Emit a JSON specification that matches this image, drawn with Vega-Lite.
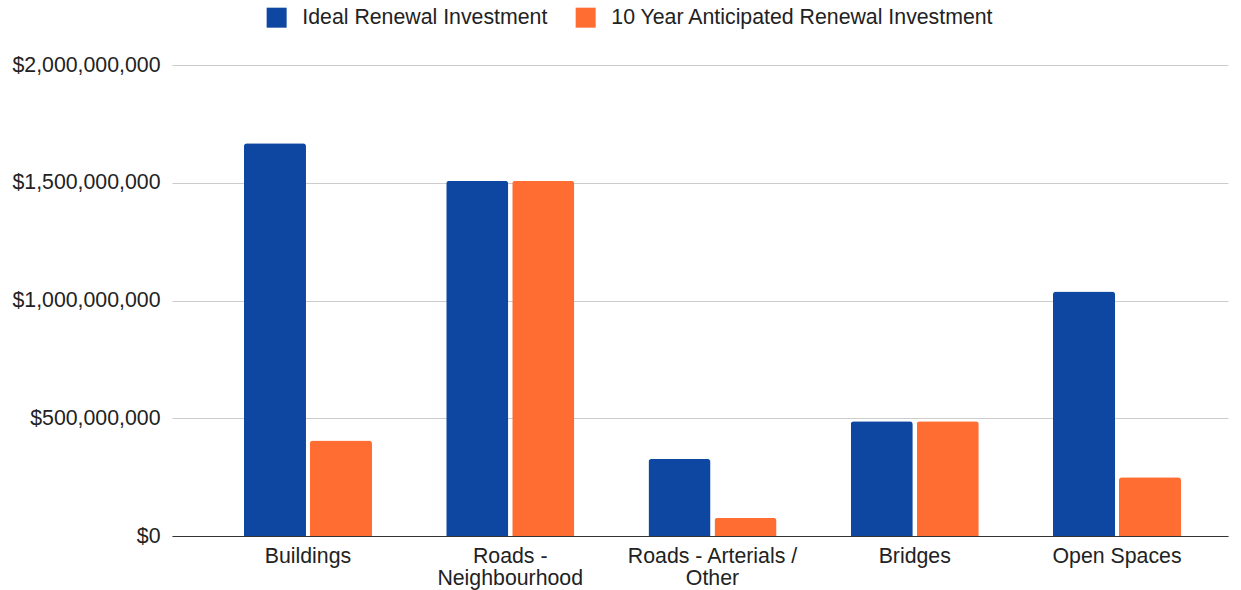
{
  "$schema": "https://vega.github.io/schema/vega-lite/v6.json",
  "width": 1056,
  "height": 471,
  "autosize": {"type": "none"},
  "padding": {"left": 172, "top": 65, "right": 13, "bottom": 54},
  "background": "white",
  "config": {
    "view": {"stroke": null},
    "font": "Liberation Sans"
  },
  "data": {
    "values": [
      {"category": "Buildings", "series": "Ideal Renewal Investment", "value": 1668000000},
      {"category": "Buildings", "series": "10 Year Anticipated Renewal Investment", "value": 405000000},
      {"category": "Roads - Neighbourhood", "series": "Ideal Renewal Investment", "value": 1508000000},
      {"category": "Roads - Neighbourhood", "series": "10 Year Anticipated Renewal Investment", "value": 1508000000},
      {"category": "Roads - Arterials / Other", "series": "Ideal Renewal Investment", "value": 327000000},
      {"category": "Roads - Arterials / Other", "series": "10 Year Anticipated Renewal Investment", "value": 77000000},
      {"category": "Bridges", "series": "Ideal Renewal Investment", "value": 487000000},
      {"category": "Bridges", "series": "10 Year Anticipated Renewal Investment", "value": 487000000},
      {"category": "Open Spaces", "series": "Ideal Renewal Investment", "value": 1038000000},
      {"category": "Open Spaces", "series": "10 Year Anticipated Renewal Investment", "value": 249000000}
    ]
  },
  "mark": {"type": "bar", "cornerRadiusTopLeft": 3, "cornerRadiusTopRight": 3},
  "encoding": {
    "x": {
      "field": "category",
      "type": "nominal",
      "sort": null,
      "scale": {"paddingInner": 0.367, "paddingOuter": 0.294, "align": 0.605},
      "axis": {
        "title": null,
        "labelAngle": 0,
        "labelFontSize": 21.3,
        "labelColor": "#222222",
        "labelPadding": 9,
        "labelLimit": 400,
        "labelLineHeight": 22,
        "ticks": false,
        "domainColor": "#333333",
        "domainWidth": 1,
        "labelExpr": "datum.label == 'Roads - Neighbourhood' ? ['Roads -', 'Neighbourhood'] : datum.label == 'Roads - Arterials / Other' ? ['Roads - Arterials /', 'Other'] : datum.label"
      }
    },
    "xOffset": {
      "field": "series",
      "type": "nominal",
      "sort": ["Ideal Renewal Investment", "10 Year Anticipated Renewal Investment"],
      "scale": {"paddingInner": 0.06, "paddingOuter": 0}
    },
    "y": {
      "field": "value",
      "type": "quantitative",
      "scale": {"domain": [0, 2000000000], "nice": false},
      "axis": {
        "title": null,
        "values": [0, 500000000, 1000000000, 1500000000, 2000000000],
        "format": "$,.0f",
        "labelFontSize": 21.3,
        "labelColor": "#222222",
        "labelPadding": 12,
        "ticks": false,
        "domain": false,
        "gridColor": "#cccccc",
        "gridWidth": 1,
        "labelLimit": 400
      }
    },
    "color": {
      "field": "series",
      "type": "nominal",
      "sort": ["Ideal Renewal Investment", "10 Year Anticipated Renewal Investment"],
      "scale": {
        "domain": ["Ideal Renewal Investment", "10 Year Anticipated Renewal Investment"],
        "range": ["#0d47a1", "#ff6d33"]
      },
      "legend": {
        "title": null,
        "orient": "none",
        "direction": "horizontal",
        "legendX": 94,
        "legendY": -58,
        "symbolType": "square",
        "symbolSize": 400,
        "symbolStrokeWidth": 0,
        "labelFontSize": 21.3,
        "labelColor": "#222222",
        "labelOffset": 15,
        "labelLimit": 600,
        "columnPadding": 27
      }
    }
  }
}
